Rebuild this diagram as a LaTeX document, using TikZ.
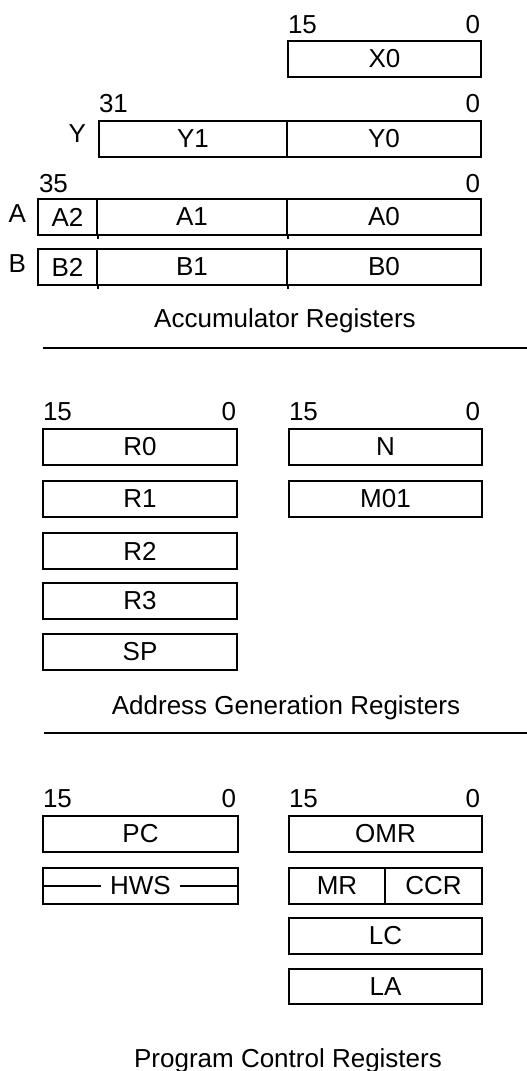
\documentclass[tikz,border=0pt]{standalone}
\usepackage{fontspec}
\setmainfont{Liberation Sans}
\begin{document}
\begin{tikzpicture}[
  x=0.75pt, y=-0.75pt,
  font=\fontsize{19.5}{23}\selectfont,
  line width=1.5pt,
  cell/.style={draw, rectangle, inner sep=0pt, anchor=north west,
    minimum width=#1*0.75pt, minimum height=36*0.75pt},
  bitl/.style={anchor=base west, inner sep=0pt},
  bitr/.style={anchor=base east, inner sep=0pt},
  side/.style={anchor=base east, inner sep=0pt},
  title/.style={anchor=base, inner sep=0pt}
]
\useasboundingbox (0,0) rectangle (527,1071);

% ---------- Accumulator registers ----------
\node[bitl] (x15) at (287,33) {15};
\node[bitr] (x00) at (481,33) {0};
\node[cell=193] (x0) at (287,40) {X0};

\node[bitl] (y31) at (98,112) {31};
\node[bitr] (y00) at (481,112) {0};
\node[side] (ylab) at (87,142) {Y};
\node[cell=188] (y1) at (98,120) {Y1};
\node[cell=194] (y0) at (286,120) {Y0};

\node[bitl] (a35) at (38,192) {35};
\node[bitr] (a00) at (481,192) {0};
\node[side] (alab) at (27,222) {A};
\node[cell=59]  (a2) at (37,198) {A2};
\node[cell=190] (a1) at (96,198) {A1};
\node[cell=194] (a0) at (286,198) {A0};
\draw (a2.south east) -- ++(0,3);
\draw (a1.south east) -- ++(0,3);

\node[side] (blab) at (27,272) {B};
\node[cell=59]  (b2) at (37,248) {B2};
\node[cell=190] (b1) at (96,248) {B1};
\node[cell=194] (b0) at (286,248) {B0};
\draw (b2.south east) -- ++(0,3);
\draw (b1.south east) -- ++(0,3);

\node[title] (acc) at (285,327) {Accumulator Registers};
\coordinate (s1a) at (43,348);
\coordinate (s1b) at (527,348);
\draw (s1a) -- (s1b);

% ---------- Address generation registers ----------
\node[bitl] (r15) at (42,420) {15};
\node[bitr] (r00) at (237,420) {0};
\node[bitl] (n15) at (288,420) {15};
\node[bitr] (n00) at (481,420) {0};
\node[cell=194] (r0) at (42,428) {R0};
\node[cell=194] (r1) at (42,480) {R1};
\node[cell=194] (r2) at (42,532) {R2};
\node[cell=194] (r3) at (42,582) {R3};
\node[cell=194] (sp) at (42,633) {SP};
\node[cell=193] (n)  at (288,428) {N};
\node[cell=193] (m01) at (288,480) {M01};

\node[title] (agu) at (286,714) {Address Generation Registers};
\coordinate (s2a) at (44,733);
\coordinate (s2b) at (527,733);
\draw (s2a) -- (s2b);

% ---------- Program control registers ----------
\node[bitl] (p15) at (42,807) {15};
\node[bitr] (p00) at (237,807) {0};
\node[bitl] (o15) at (288,807) {15};
\node[bitr] (o00) at (481,807) {0};
\node[cell=195] (pc) at (42,815) {PC};
\node[cell=195] (hws) at (42,867) {};
\node[inner xsep=6pt, inner ysep=0pt] (hwst) at (hws.center) {HWS};
\draw (hws.west) -- (hwst.west);
\draw (hwst.east) -- (hws.east);
\node[cell=193] (omr) at (288,815) {OMR};
\node[cell=96]  (mr)  at (288,867) {MR};
\node[cell=97]  (ccr) at (384,867) {CCR};
\node[cell=193] (lc)  at (288,917) {LC};
\node[cell=193, minimum height=35*0.75pt] (la) at (288,968) {LA};

\node[title] (pcu) at (288,1067) {Program Control Registers};
\end{tikzpicture}
\end{document}
